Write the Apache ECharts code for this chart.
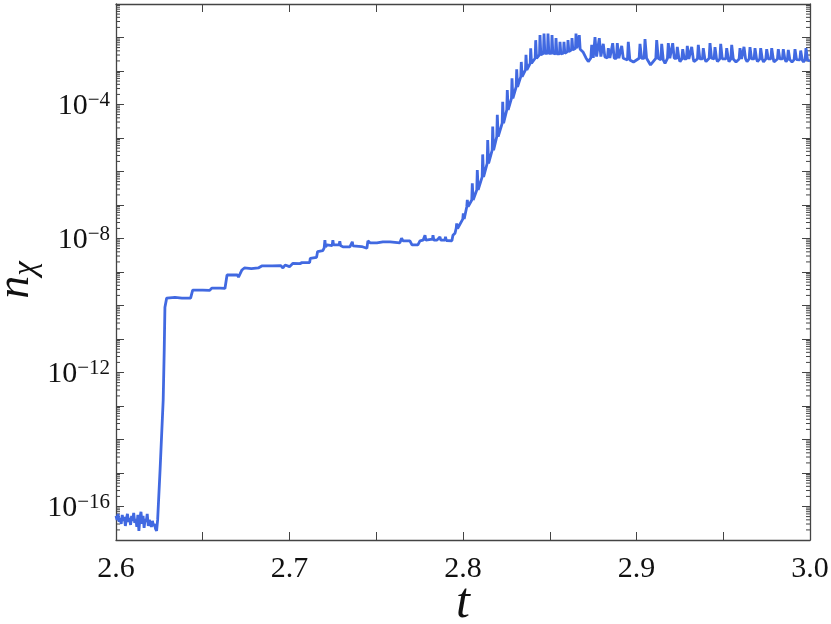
<!DOCTYPE html>
<html>
<head>
<meta charset="utf-8">
<script src="https://cdn.jsdelivr.net/npm/echarts@6/dist/echarts.min.js"></script>
<style>
html,body{margin:0;padding:0;background:#fff;}
#chart{width:831px;height:624px;}
</style>
</head>
<body>
<div id="chart"></div>
<script>
// ---------- data (t, log10 n_chi) ----------
const floorT = [2.6000,2.6006,2.6012,2.6018,2.6024,2.6030,2.6036,2.6042,2.6048,2.6054,2.6060,2.6066,2.6072,2.6078,2.6084,2.6090,2.6096,2.6102,2.6108,2.6114,2.6120,2.6126,2.6132,2.6138,2.6144,2.6150,2.6156,2.6162,2.6168,2.6174,2.6180,2.6186,2.6192,2.6198,2.6204,2.6210,2.6216,2.6222,2.6228,2.6234];
const floorLog = [-16.28,-16.40,-16.22,-16.46,-16.34,-16.52,-16.25,-16.43,-16.31,-16.58,-16.37,-16.22,-16.46,-16.34,-16.55,-16.28,-16.43,-16.19,-16.49,-16.37,-16.61,-16.25,-16.73,-16.34,-16.16,-16.52,-16.28,-16.64,-16.37,-16.46,-16.22,-16.58,-16.40,-16.49,-16.61,-16.43,-16.58,-16.52,-16.67,-16.73];

const riseT = [2.6240,2.6254,2.6272,2.6278,2.6282,2.6292];
const riseLog = [-16.40,-14.91,-12.82,-11.33,-10.05,-9.78];

const plateauT = [2.6300,2.6340,2.6380,2.6430,2.6442,2.6500,2.6540,2.6552,2.6600,2.6628,2.6640,2.6700,2.6706,2.6726,2.6740,2.6780,2.6820,2.6840,2.6900,2.6950,2.6962,2.6975,2.7000,
  2.7020,2.7060,2.7066,2.7072,2.7116,2.7120,2.7156,2.7162,2.7192,2.7200,2.7204,2.7208,2.7216,2.7246,2.7250,2.7254,2.7286,2.7290,2.7294,2.7308,2.7348,2.7362,2.7366,2.7416,2.7420,2.7446,2.7452,2.7464,2.7504,2.7510,2.7538,2.7580,2.7590,2.7636,2.7646,2.7654,2.7694,2.7706,2.7740,2.7752,2.7770,2.7781,2.7786,2.7824,2.7827,2.7832,2.7850,2.7867,2.7872,2.7896,2.7899,2.7904,2.7936,2.7942,2.7954];
const plateauLog = [-9.75,-9.76,-9.78,-9.78,-9.54,-9.54,-9.55,-9.48,-9.48,-9.49,-9.09,-9.09,-9.15,-8.94,-8.88,-8.90,-8.88,-8.82,-8.82,-8.81,-8.88,-8.79,-8.84,
  -8.74,-8.75,-8.79,-8.72,-8.72,-8.59,-8.56,-8.39,-8.36,-8.28,-8.05,-8.25,-8.19,-8.21,-8.05,-8.19,-8.19,-8.08,-8.21,-8.25,-8.25,-8.10,-8.22,-8.24,-8.29,-8.29,-8.07,-8.13,-8.13,-8.16,-8.10,-8.10,-8.13,-8.13,-7.99,-8.07,-8.07,-8.19,-8.19,-8.07,-8.05,-7.90,-8.05,-8.02,-7.90,-8.05,-8.05,-7.95,-8.05,-8.05,-7.95,-8.06,-8.07,-7.90,-7.84];

// growth phase: sawtooth spikes (time, spike top, local base)
const growthT = [2.79637,2.80017,2.80248,2.80536,2.80824,2.81135,2.81424,2.81712,2.81977,2.82288,2.82553,2.82824,2.83095,2.83360,2.83631,2.83902,2.84190,2.84438,2.84669,2.84899,2.85130,2.85360,2.85591,2.85821,2.86052,2.86282,2.86513,2.86703];
const growthTop = [-7.55,-7.25,-6.85,-6.35,-5.96,-5.49,-5.06,-4.66,-4.31,-3.92,-3.57,-3.22,-2.95,-2.73,-2.52,-2.32,-2.08,-1.93,-1.88,-1.88,-1.93,-2.02,-2.13,-2.13,-2.08,-2.02,-1.88,-1.93];
const growthBase = [-7.70,-7.42,-7.05,-6.85,-6.55,-6.16,-5.76,-5.36,-4.96,-4.56,-4.16,-3.82,-3.47,-3.17,-2.97,-2.77,-2.62,-2.52,-2.47,-2.47,-2.47,-2.49,-2.49,-2.47,-2.42,-2.37,-2.32,-2.35];

// saturation phase
const satT = [2.87418,2.87608,2.87856,2.88086,2.88375,2.88628,2.88893,2.89147,2.89527,2.90202,2.90490,2.91164,2.91452,2.91833,2.92086,2.92352,2.92663,2.92928,2.93182,2.93562,2.93850,2.94236,2.94524,2.94853,2.95199,2.95487,2.95965,2.96196,2.96542,2.96830,2.97158,2.97504,2.97793,2.98173,2.98461,2.98749,2.99135,2.99464,2.99769];
const satTop = [-2.22,-1.99,-2.02,-2.19,-2.32,-2.17,-2.17,-2.25,-2.13,-2.19,-2.05,-2.08,-2.19,-2.17,-2.17,-2.28,-2.35,-2.25,-2.28,-2.22,-2.32,-2.17,-2.29,-2.19,-2.32,-2.22,-2.32,-2.28,-2.29,-2.32,-2.32,-2.35,-2.32,-2.35,-2.35,-2.37,-2.35,-2.39,-2.32];
const satBase = [-2.61,-2.57,-2.57,-2.58,-2.61,-2.62,-2.62,-2.62,-2.67,-2.62,-2.62,-2.62,-2.67,-2.62,-2.62,-2.62,-2.64,-2.64,-2.64,-2.64,-2.64,-2.62,-2.64,-2.64,-2.64,-2.64,-2.64,-2.64,-2.64,-2.64,-2.64,-2.64,-2.64,-2.64,-2.64,-2.66,-2.66,-2.67,-2.67];
const dipT = [2.86916,2.87089,2.87222,2.87320,2.89337,2.89827,2.90807,2.91643,2.92507,2.93314,2.94006,2.94669,2.95331,2.95735,2.96369,2.96974,2.97320,2.97925,2.98617,2.98963,2.99625,3.0000];
const dipLog = [-2.43,-2.61,-2.72,-2.67,-2.61,-2.73,-2.82,-2.77,-2.72,-2.72,-2.72,-2.72,-2.72,-2.73,-2.72,-2.72,-2.73,-2.73,-2.72,-2.73,-2.73,-2.70];

// axes
const xLabelTicks = [2.6, 2.7, 2.8, 2.9, 3.0];
const yLabelExponents = [-16, -12, -8, -4];
const minorMultipliers = [2,3,4,5,6,7,8,9];
const decadeExponents = [-17,-16,-15,-14,-13,-12,-11,-10,-9,-8,-7,-6,-5,-4,-3,-2];

// ---------- build ----------
const pts = [];
function addPairs(ts, ls){ ts.forEach((t,i)=>pts.push([t, Math.pow(10, ls[i])])); }
function addSpikes(ts, tops, bases, before, after){
  ts.forEach((t,i)=>{
    pts.push([t-before, Math.pow(10, bases[i])]);
    pts.push([t, Math.pow(10, tops[i])]);
    pts.push([t+after, Math.pow(10, bases[i])]);
  });
}
addPairs(floorT, floorLog);
addPairs(riseT, riseLog);
addPairs(plateauT, plateauLog);
addSpikes(growthT, growthTop, growthBase, 0.0003, 0.0005);
addSpikes(satT, satTop, satBase, 0.0005, 0.0009);
addPairs(dipT, dipLog);
pts.sort((a,b)=>a[0]-b[0]);

const minorVals = [];
decadeExponents.forEach(e=>minorMultipliers.forEach(m=>minorVals.push([2.6, m*Math.pow(10,e)])));

const FONT = 'Liberation Serif';
const AX = '#444';

const chart = echarts.init(document.getElementById('chart'), null, {renderer:'canvas'});
const xCommon = {
  type:'value', min:2.6, max:3.0, interval:0.05,
  splitLine:{show:false},
  axisLine:{show:true, onZero:false, lineStyle:{color:AX, width:1.3}},
  axisTick:{show:true, inside:true, length:8, lineStyle:{color:AX, width:1}}
};
const yCommon = {
  type:'log', logBase:10, min:1e-17, max:1e-1, interval:1,
  splitLine:{show:false},
  axisLine:{show:true, onZero:false, lineStyle:{color:AX, width:1.3}},
  axisTick:{show:true, inside:true, length:8, lineStyle:{color:AX, width:1}}
};
chart.setOption({
  animation:false,
  backgroundColor:'#fff',
  grid:{left:116, right:21, top:4, bottom:84, containLabel:false, outerBoundsMode:'none'},
  xAxis:[
    Object.assign({}, xCommon, {
      position:'bottom',
      name:'t', nameLocation:'middle', nameGap:39, nameMoveOverlap:false,
      nameTextStyle:{fontFamily:FONT, fontStyle:'italic', fontSize:50, color:'#111'},
      axisLabel:{
        margin:14, fontFamily:FONT, fontSize:30, color:'#111',
        formatter:function(v){
          for (const k of xLabelTicks){ if (Math.abs(v-k)<1e-6) return k.toFixed(1); }
          return '';
        }
      }
    }),
    Object.assign({}, xCommon, {position:'top', axisLabel:{show:false}})
  ],
  yAxis:[
    Object.assign({}, yCommon, {
      position:'left',
      name:'{n|n}{c|χ}', nameLocation:'middle', nameGap:73, nameRotate:90, nameMoveOverlap:false,
      nameTextStyle:{
        padding:[0,16,0,0],
        rich:{
          n:{fontFamily:FONT, fontStyle:'italic', fontSize:46, lineHeight:46, padding:[0,0,8,0], color:'#111'},
          c:{fontFamily:FONT, fontStyle:'italic', fontSize:33, lineHeight:33, verticalAlign:'bottom', color:'#111'}
        }
      },
      axisLabel:{
        margin:6,
        formatter:function(v){
          const e = Math.round(Math.log10(v));
          if (yLabelExponents.indexOf(e) < 0) return '';
          return '{b|10}{s|\u2212' + (-e) + '}';
        },
        rich:{
          b:{fontFamily:FONT, fontSize:30, lineHeight:30, padding:[3,0,0,0], color:'#111'},
          s:{fontFamily:FONT, fontSize:21, lineHeight:21, verticalAlign:'top', color:'#111'}
        }
      }
    }),
    Object.assign({}, yCommon, {position:'right', axisLabel:{show:false}})
  ],
  series:[
    {
      type:'line', xAxisIndex:0, yAxisIndex:0,
      data:pts, showSymbol:false, symbol:'none',
      lineStyle:{color:'#4169E1', width:2.8},
      z:3
    },
    {
      type:'custom', xAxisIndex:0, yAxisIndex:0, silent:true,
      encode:{x:0, y:1},
      data:minorVals,
      renderItem:function(params, api){
        const yv = api.value(1);
        const pl = api.coord([2.6, yv]);
        const pr = api.coord([3.0, yv]);
        return {type:'group', children:[
          {type:'line', shape:{x1:pl[0], y1:pl[1], x2:pl[0]+4, y2:pl[1]}, style:{stroke:AX, lineWidth:1}},
          {type:'line', shape:{x1:pr[0], y1:pr[1], x2:pr[0]-4, y2:pr[1]}, style:{stroke:AX, lineWidth:1}}
        ]};
      },
      z:2
    }
  ]
});
</script>
</body>
</html>
